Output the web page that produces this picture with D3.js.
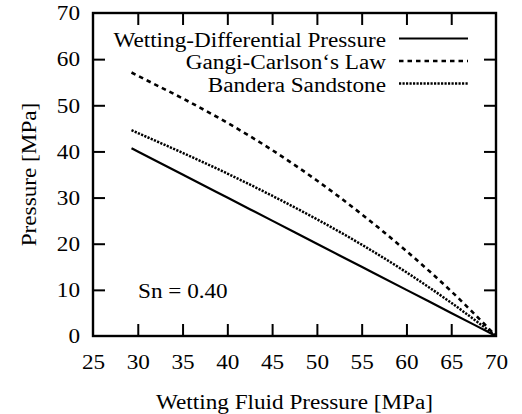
<!DOCTYPE html>
<html>
<head>
<meta charset="utf-8">
<script src="https://cdn.jsdelivr.net/npm/d3@7/dist/d3.min.js"></script>
<style>
  html, body { margin: 0; padding: 0; background: #fff; }
  svg { display: block; }
  svg text { font-family: "Liberation Serif", "Times New Roman", serif; fill: #000; }
</style>
</head>
<body>
<svg id="chart" width="522" height="414"></svg>
<script>
// Wetting fluid pressure [MPa] at which each curve is sampled
const wettingPressure = [29.3, 30, 35, 40, 45, 50, 55, 60, 65, 70];
// Wetting-differential pressure (Pc - Pw)
const differential = [40.7, 40, 35, 30, 25, 20, 15, 10, 5, 0];
// Gangi-Carlson's law prediction
const gangiCarlson = [57.1, 56.4, 51.5, 46.2, 40.3, 33.7, 26.4, 18.4, 9.7, 0];
// Bandera sandstone
const bandera = [44.6, 44.0, 39.7, 35.2, 30.4, 25.3, 19.8, 13.8, 7.2, 0];

const xTicks = [25, 30, 35, 40, 45, 50, 55, 60, 65, 70];
const yTicks = [0, 10, 20, 30, 40, 50, 60, 70];

const series = [
  { name: "Wetting-Differential Pressure", values: differential, dash: null, width: 2.2 },
  { name: "Gangi-Carlson\u2018s Law", values: gangiCarlson, dash: "4.5,4", width: 2.6 },
  { name: "Bandera Sandstone", values: bandera, dash: "2.2,1.3", width: 2.5 }
];

const SERIF = "'Liberation Serif', 'Times New Roman', serif";
const FS = 20;       // font size
const SX = 1.16;     // horizontal stretch of the lettering

const svg = d3.select("#chart");
const m = { left: 93, right: 26, top: 13, bottom: 78 };
const W = 522, H = 414;
const x = d3.scaleLinear().domain([25, 70]).range([m.left, W - m.right]);
const y = d3.scaleLinear().domain([0, 70]).range([H - m.bottom, m.top]);

const tickLen = 12;

function styleText(sel) {
  return sel.style("font-family", SERIF).style("font-size", FS + "px").attr("fill", "#000");
}

// Text placed at (tx, ty), stretched horizontally about its anchor
function addText(parent, tx, ty, str, anchor, rot) {
  return parent.append("text")
    .attr("transform", `translate(${tx},${ty})${rot ? ` rotate(${rot})` : ""} scale(${SX},1)`)
    .attr("text-anchor", anchor || "start")
    .call(styleText)
    .text(str);
}

// Axes with inward ticks on all four sides
const gB = svg.append("g").attr("transform", `translate(0,${y(0)})`)
  .call(d3.axisBottom(x).tickValues(xTicks).tickSizeInner(-tickLen).tickSizeOuter(0));
const gT = svg.append("g").attr("transform", `translate(0,${y(70)})`)
  .call(d3.axisTop(x).tickValues(xTicks.slice(1, -1)).tickSizeInner(-tickLen).tickSizeOuter(0).tickFormat(""));
const gL = svg.append("g").attr("transform", `translate(${x(25)},0)`)
  .call(d3.axisLeft(y).tickValues(yTicks).tickSizeInner(-tickLen).tickSizeOuter(0));
const gR = svg.append("g").attr("transform", `translate(${x(70)},0)`)
  .call(d3.axisRight(y).tickValues(yTicks.slice(1, -1)).tickSizeInner(-tickLen).tickSizeOuter(0).tickFormat(""));

[gB, gT, gL, gR].forEach(g => {
  g.select(".domain").remove();
  g.selectAll(".tick line").attr("stroke", "#000").attr("stroke-width", 2);
  g.selectAll(".tick text").call(styleText);
});
gB.selectAll(".tick text")
  .attr("x", 0).attr("y", 0).attr("dy", null)
  .attr("transform", `translate(0,${369 - y(0)}) scale(${SX},1)`);
gL.selectAll(".tick text")
  .attr("x", 0).attr("y", 0).attr("dy", null)
  .attr("transform", `translate(-13,6.8) scale(${SX},1)`);
// No tick marks in the corners of the frame
gB.selectAll(".tick line").filter(d => d === 25 || d === 70).remove();
gL.selectAll(".tick line").filter(d => d === 0 || d === 70).remove();

// Frame
svg.append("rect")
  .attr("x", x(25)).attr("y", y(70))
  .attr("width", x(70) - x(25)).attr("height", y(0) - y(70))
  .attr("fill", "none").attr("stroke", "#000").attr("stroke-width", 2.4);

// Curves
const line = d3.line()
  .x((d, i) => x(wettingPressure[i]))
  .y(d => y(d))
  .curve(d3.curveMonotoneX);

series.forEach(s => {
  svg.append("path")
    .datum(s.values)
    .attr("d", line)
    .attr("fill", "none")
    .attr("stroke", "#000")
    .attr("stroke-width", s.width)
    .attr("stroke-dasharray", s.dash);
});

// Legend
const legend = svg.append("g");
series.forEach((s, i) => {
  const ly = 38.5 + i * 22.5;
  addText(legend, 386, ly + 8, s.name, "end");
  legend.append("line")
    .attr("x1", 399).attr("x2", 468)
    .attr("y1", ly).attr("y2", ly)
    .attr("stroke", "#000")
    .attr("stroke-width", s.width)
    .attr("stroke-dasharray", s.dash);
});

// Annotation
addText(svg, 138, 298, "Sn = 0.40", "start");

// Axis titles
addText(svg, (x(25) + x(70)) / 2, 409, "Wetting Fluid Pressure [MPa]", "middle");
addText(svg, 35.5, (y(0) + y(70)) / 2, "Pressure [MPa]", "middle", -90);
</script>
</body>
</html>
